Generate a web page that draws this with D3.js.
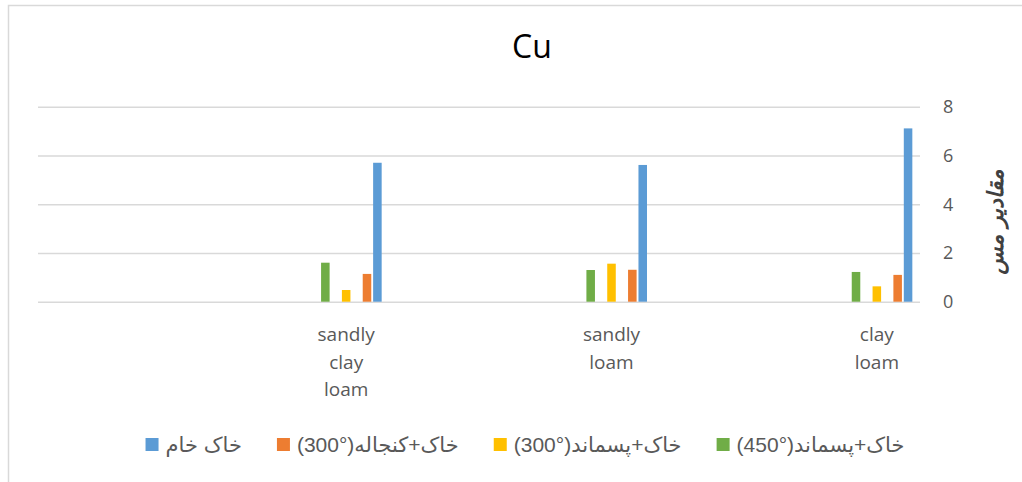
<!DOCTYPE html>
<html lang="fa">
  <head>
    <meta charset="utf-8">
    <title>Cu</title>
    <style>
      body {margin: 0; background: #fff;}
      svg {display: block;}
      .grid line {stroke: #d9d9d9; stroke-width: 1.5px;}
      .grid path {display: none;}
      .ytick text {fill: #595959; font-family: "Open Sans", sans-serif; font-size: 18px;}
      .xlab text {fill: #595959; font-family: "Open Sans", sans-serif; font-size: 19px;}
      .legend text {fill: #595959; font-family: "Liberation Sans", "DejaVu Sans", sans-serif; font-size: 21px;}
    </style>
    <script src="https://d3js.org/d3.v7.min.js"></script>
  </head>
  <body>
    <script>
      // categories, left to right as shown
      var categories = ["sandly clay loam", "sandly loam", "clay loam"];

      // series (slot order from the right); empty names are blank series in the sheet
      var seriesNames = ["خاک خام", "(300°)خاک+کنجاله", "", "(300°)خاک+پسماند", "", "(450°)خاک+پسماند", ""];
      var rawSoil      = [5.70, 5.61, 7.11];
      var soilCake300  = [1.14, 1.31, 1.10];
      var soilWaste300 = [0.48, 1.56, 0.63];
      var soilWaste450 = [1.60, 1.30, 1.22];
      var seriesValues = [rawSoil, soilCake300, [], soilWaste300, [], soilWaste450, []];
      var seriesColors = ["#5b9bd5", "#ed7d31", null, "#ffc000", null, "#70ad47", null];

      var yTicks = [0, 2, 4, 6, 8];

      var width = 1022, height = 482;
      var plotLeft = 38, plotRight = 920;

      var svg = d3.select("body").append("svg")
        .attr("width", width)
        .attr("height", height);

      // chart border
      svg.append("rect")
        .attr("x", 8.5).attr("y", 5.5)
        .attr("width", width).attr("height", height)
        .attr("fill", "none")
        .attr("stroke", "#d9d9d9")
        .attr("stroke-width", 1.5);

      // title
      svg.append("text")
        .attr("x", 532).attr("y", 58)
        .attr("text-anchor", "middle")
        .attr("font-family", "Open Sans, sans-serif")
        .attr("font-size", 32)
        .attr("fill", "#000")
        .text("Cu");

      var y = d3.scaleLinear().domain([0, 8]).range([301.7, 106.7]);

      var x = d3.scaleBand().domain(categories).range([213.5, 1009.5]);

      var slot = d3.scaleBand()
        .domain(d3.range(seriesNames.length))
        .range([35.5, -35.5])
        .paddingInner(0.18);

      // gridlines
      svg.append("g")
        .attr("class", "grid")
        .attr("transform", "translate(" + plotLeft + ",0)")
        .call(d3.axisRight(y).tickValues(yTicks).tickSize(plotRight - plotLeft).tickFormat(""));

      // y tick labels on the right
      svg.append("g")
        .attr("class", "ytick")
        .selectAll("text")
        .data(yTicks)
        .join("text")
        .attr("x", 943)
        .attr("y", function(d) { return y(d); })
        .attr("dy", "0.36em")
        .text(function(d) { return d; });

      // y axis title
      svg.append("text")
        .attr("transform", "translate(1003,222) rotate(-90)")
        .attr("text-anchor", "middle")
        .attr("direction", "rtl")
        .attr("font-family", "DejaVu Sans, sans-serif")
        .attr("font-size", 22)
        .attr("font-weight", "bold")
        .attr("font-style", "italic")
        .attr("fill", "#404040")
        .text("مقادیر مس");

      // bars
      var barData = [];
      seriesValues.forEach(function(vals, s) {
        vals.forEach(function(v, i) {
          barData.push({s: s, cat: categories[i], v: v});
        });
      });

      svg.append("g")
        .selectAll("rect")
        .data(barData)
        .join("rect")
        .attr("x", function(d) { return x(d.cat) + x.bandwidth() / 2 + slot(d.s); })
        .attr("width", slot.bandwidth())
        .attr("y", function(d) { return y(d.v); })
        .attr("height", function(d) { return y(0) - y(d.v); })
        .attr("fill", function(d) { return seriesColors[d.s]; });

      // category labels, one word per line
      var xlab = svg.append("g").attr("class", "xlab")
        .selectAll("text")
        .data(categories)
        .join("text")
        .attr("text-anchor", "middle")
        .attr("x", function(d) { return x(d) + x.bandwidth() / 2; })
        .attr("y", 341);
      xlab.selectAll("tspan")
        .data(function(d) { return d.split(" ").map(function(w) { return {w: w, c: d}; }); })
        .join("tspan")
        .attr("x", function(d) { return x(d.c) + x.bandwidth() / 2; })
        .attr("dy", function(d, i) { return i ? 27.5 : 0; })
        .text(function(d) { return d.w; });

      // legend: shown left to right in series order
      var legendItems = seriesNames
        .map(function(n, i) { return {name: n, color: seriesColors[i]}; })
        .filter(function(d) { return d.name; });

      var legend = svg.append("g").attr("class", "legend");
      var items = legend.selectAll("g").data(legendItems).join("g");
      items.append("rect")
        .attr("width", 13).attr("height", 13)
        .attr("y", 438)
        .attr("fill", function(d) { return d.color; });
      items.append("text")
        .attr("text-anchor", "start")
        .attr("y", 445)
        .attr("dy", "0.35em")
        .text(function(d) { return d.name; });

      var sq = 13, sqGap = 7, itemGap = 35;
      var widths = [];
      items.select("text").each(function() { widths.push(this.getComputedTextLength()); });
      var total = d3.sum(widths) + widths.length * (sq + sqGap) + (widths.length - 1) * itemGap;
      var cursor = 525 - total / 2;
      items.each(function(d, i) {
        var g = d3.select(this);
        g.select("rect").attr("x", cursor);
        g.select("text").attr("x", cursor + sq + sqGap);
        cursor += sq + sqGap + widths[i] + itemGap;
      });
    </script>
  </body>
</html>
